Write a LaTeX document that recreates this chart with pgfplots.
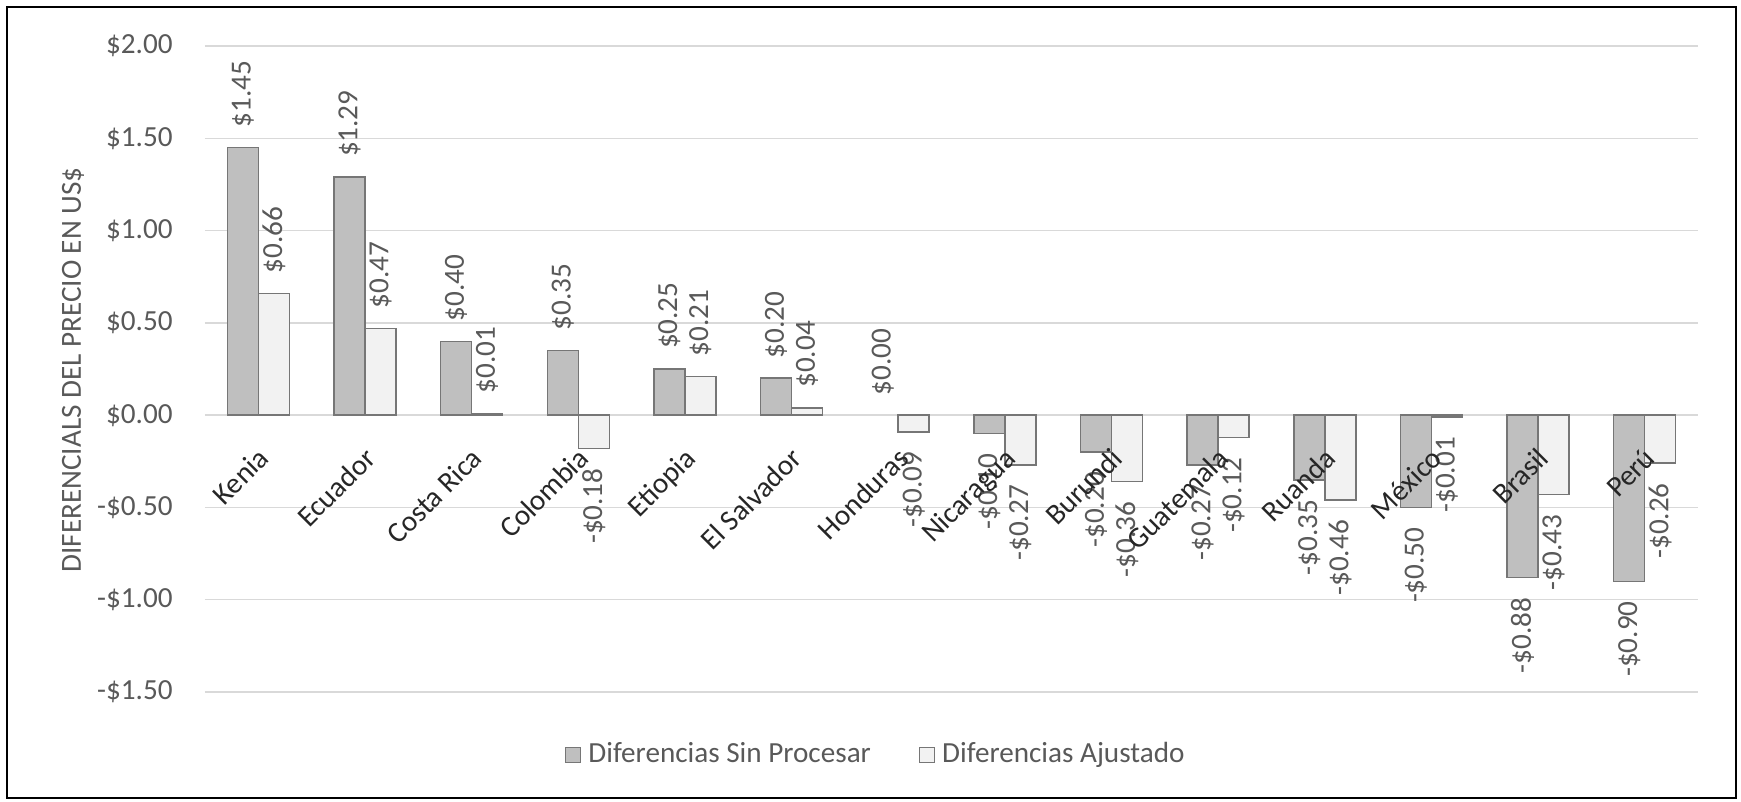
\documentclass[border=0pt]{standalone}
\usepackage{pgfplots}
\pgfplotsset{compat=1.18}
\usepackage{fontspec}
\setmainfont{Carlito}
\definecolor{gridc}{HTML}{D9D9D9}
\definecolor{txtc}{HTML}{595959}
\definecolor{catc}{HTML}{262626}
\definecolor{barA}{HTML}{BFBFBF}
\definecolor{barB}{HTML}{F2F2F2}
\definecolor{edgec}{HTML}{767676}
\begin{document}
\begin{tikzpicture}[font=\fontsize{8.3}{10}\selectfont]
\path (-20.5mm,-10.9mm) rectangle (153.6mm,69.2mm);
\draw[black, line width=0.22mm] (-19.8mm,-10.6mm) rectangle (153.1mm,68.5mm);
\node[rotate=90, text=txtc] at (-13.2mm,32.2mm) {DIFERENCIALS DEL PRECIO EN US\$};
\begin{axis}[
  set layers,
  at={(0,0)}, anchor=south west,
  scale only axis, width=149.3mm, height=64.6mm,
  xmin=-0.5, xmax=13.5, ymin=-1.5, ymax=2.0,
  axis x line=middle, axis y line=left,
  x axis line style={-, draw=gridc, line width=0.15mm},
  y axis line style={draw=none},
  hide obscured x ticks=false, hide obscured y ticks=false,
  major tick length=0pt,
  ymajorgrids, grid style={gridc, line width=0.15mm},
  ytick={-1.5,-1,-0.5,0,0.5,1,1.5,2},
  yticklabels={-\$1.50,-\$1.00,-\$0.50,\$0.00,\$0.50,\$1.00,\$1.50,\$2.00},
  yticklabel style={text=txtc, xshift=-2mm},
  xtick={0,...,13},
  xticklabels={Kenia,Ecuador,Costa Rica,Colombia,Etiopia,El Salvador,Honduras,Nicaragua,Burundi,Guatemala,Ruanda,México,Brasil,Perú},
  xticklabel style={/pgfplots/on layer=axis foreground, yshift=-2.5mm, xshift=-0.2mm, rotate=45, anchor=north east, text=catc, inner sep=1pt},
  ybar, bar width=3.1mm,
  point meta=explicit symbolic,
  nodes near coords,
  legend columns=2,
  legend style={at={(axis description cs:0.451,-0.0975)}, anchor=center, draw=none, fill=none,
    text=txtc, /tikz/every even column/.append style={column sep=4.1mm}},
  legend image code/.code={\draw[#1, line width=0.12mm] (0mm,-0.75mm) rectangle (1.5mm,0.75mm);},
]
\addplot[fill=barA, draw=edgec, line width=0.15mm, bar shift=-1.55mm,
  every node near coord/.append style={rotate=90, anchor=west, text=txtc, inner sep=5.5pt}]
  coordinates {(0,1.45)[\$1.45] (1,1.29)[\$1.29] (2,0.40)[\$0.40] (3,0.35)[\$0.35] (4,0.25)[\$0.25] (5,0.20)[\$0.20]};
\addlegendentry{Diferencias Sin Procesar}
\addplot[fill=barB, draw=edgec, line width=0.15mm, bar shift=1.55mm,
  every node near coord/.append style={rotate=90, anchor=west, text=txtc, inner sep=5.5pt}]
  coordinates {(0,0.66)[\$0.66] (1,0.47)[\$0.47] (2,0.01)[\$0.01] (4,0.21)[\$0.21] (5,0.04)[\$0.04]};
\addlegendentry{Diferencias Ajustado}
\addplot[forget plot, fill=barA, draw=edgec, line width=0.15mm, bar shift=-1.55mm,
  every node near coord/.append style={rotate=90, anchor=east, text=txtc, inner sep=5.5pt}]
  coordinates {(7,-0.10)[-\$0.10] (8,-0.20)[-\$0.20] (9,-0.27)[-\$0.27] (10,-0.35)[-\$0.35] (11,-0.50)[-\$0.50] (12,-0.88)[-\$0.88] (13,-0.90)[-\$0.90]};
\addplot[forget plot, fill=barB, draw=edgec, line width=0.15mm, bar shift=1.55mm,
  every node near coord/.append style={rotate=90, anchor=east, text=txtc, inner sep=5.5pt}]
  coordinates {(3,-0.18)[-\$0.18] (6,-0.09)[-\$0.09] (7,-0.27)[-\$0.27] (8,-0.36)[-\$0.36] (9,-0.12)[-\$0.12] (10,-0.46)[-\$0.46] (11,-0.01)[-\$0.01] (12,-0.43)[-\$0.43] (13,-0.26)[-\$0.26]};
\addplot[forget plot, draw=none, fill=none, bar shift=-1.55mm,
  every node near coord/.append style={rotate=90, anchor=west, text=txtc, inner sep=5.5pt}]
  coordinates {(6,0)[\$0.00]};
\end{axis}
\end{tikzpicture}
\end{document}
